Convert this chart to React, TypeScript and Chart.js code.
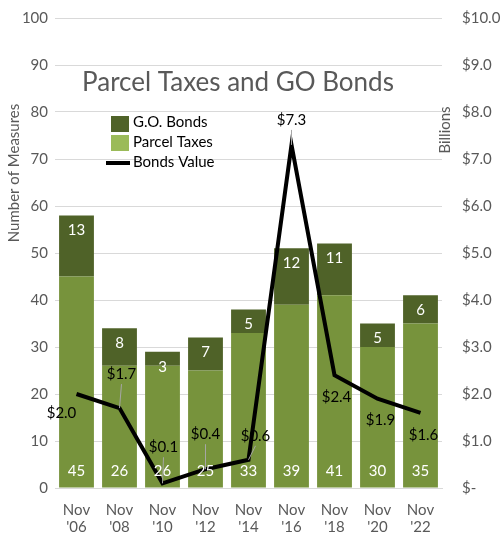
import React, { useEffect, useRef } from "react";
import { Chart, registerables } from "chart.js";

Chart.register(...registerables);

const categories = [["Nov", "'06"], ["Nov", "'08"], ["Nov", "'10"], ["Nov", "'12"], ["Nov", "'14"], ["Nov", "'16"], ["Nov", "'18"], ["Nov", "'20"], ["Nov", "'22"]];
const parcelTaxes = [45, 26, 26, 25, 33, 39, 41, 30, 35];
const goBonds = [13, 8, 3, 7, 5, 12, 11, 5, 6];
const bondsValue = [2.0, 1.7, 0.1, 0.4, 0.6, 7.3, 2.4, 1.9, 1.6];

// label offsets (style only) for the line labels
const lineLabelOffsets = [[-15, 19], [2, -34], [1, -36], [0, -35], [7, -24], [0, -25], [2, 22], [3, 21], [3, 22]];

const FONT = "Lato, 'Open Sans', sans-serif";
const GRAY = "#595959";
const C_PARCEL = "#77933C";
const C_PARCEL_LEG = "#9BBB59";
const C_GO = "#4F6228";

const overlay = {
  id: "overlay",
  afterDatasetsDraw(chart: any) {
    const ctx = chart.ctx;
    ctx.save();
    ctx.font = `15px ${FONT}`;
    ctx.fillStyle = "#ffffff";
    ctx.textAlign = "center";
    ctx.textBaseline = "middle";
    const m0 = chart.getDatasetMeta(0);
    const m1 = chart.getDatasetMeta(1);
    m0.data.forEach((el: any, i: number) => {
      ctx.fillText(String(parcelTaxes[i]), el.x, el.base - 16);
    });
    m1.data.forEach((el: any, i: number) => {
      ctx.fillText(String(goBonds[i]), el.x, el.y + 15);
    });
    const m2 = chart.getDatasetMeta(2);
    m2.data.forEach((el: any, i: number) => {
      const [dx, dy] = lineLabelOffsets[i];
      const lx = el.x + dx;
      const ly = el.y + dy;
      if (Math.abs(dy) > 23 && dy < 0) {
        ctx.strokeStyle = "#a6a6a6";
        ctx.lineWidth = 1;
        ctx.beginPath();
        ctx.moveTo(lx, ly + 10);
        ctx.lineTo(el.x, el.y);
        ctx.stroke();
      }
      ctx.fillStyle = "#000000";
      ctx.fillText("$" + bondsValue[i].toFixed(1), lx, ly);
    });
    ctx.restore();
  },
  afterDraw(chart: any) {
    const ctx = chart.ctx;
    ctx.save();
    ctx.fillStyle = GRAY;
    ctx.font = `26px ${FONT}`;
    ctx.textAlign = "center";
    ctx.textBaseline = "middle";
    ctx.fillText("Parcel Taxes and GO Bonds", 238, 83);
    ctx.font = `15px ${FONT}`;
    ctx.textAlign = "left";
    ctx.fillStyle = C_GO;
    ctx.fillRect(111, 116, 18, 16);
    ctx.fillStyle = C_PARCEL_LEG;
    ctx.fillRect(111, 135, 18, 16);
    ctx.fillStyle = "#000";
    ctx.fillRect(106, 161, 24, 4);
    ctx.fillText("G.O. Bonds", 133, 122);
    ctx.fillText("Parcel Taxes", 133, 142);
    ctx.fillText("Bonds Value", 133, 162);
    ctx.fillStyle = GRAY;
    ctx.font = `15px ${FONT}`;
    ctx.textAlign = "center";
    ctx.translate(14, 173);
    ctx.rotate(-Math.PI / 2);
    ctx.fillText("Number of Measures", 0, 0);
    ctx.setTransform(1, 0, 0, 1, 0, 0);
    ctx.translate(445, 130);
    ctx.rotate(-Math.PI / 2);
    ctx.fillText("Billions", 0, 0);
    ctx.restore();
  },
};

export default function App() {
  const ref = useRef<HTMLCanvasElement>(null);
  useEffect(() => {
    document.body.style.margin = "0";
    const chart = new Chart(ref.current!, {
      type: "bar",
      data: {
        labels: categories,
        datasets: [
          { type: "bar", label: "Parcel Taxes", data: parcelTaxes, backgroundColor: C_PARCEL, stack: "s", yAxisID: "y", barPercentage: 0.81, categoryPercentage: 1, order: 2 },
          { type: "bar", label: "G.O. Bonds", data: goBonds, backgroundColor: C_GO, stack: "s", yAxisID: "y", barPercentage: 0.81, categoryPercentage: 1, order: 2 },
          { type: "line", label: "Bonds Value", data: bondsValue, borderColor: "#000", borderWidth: 4, pointRadius: 0, yAxisID: "y1", order: 1, tension: 0 } as any,
        ],
      },
      options: {
        responsive: false,
        animation: false,
        layout: { padding: { top: 18, left: 0, right: 0, bottom: 0 } },
        plugins: { legend: { display: false }, title: { display: false }, tooltip: { enabled: false } },
        scales: {
          x: {
            stacked: true,
            grid: { display: false, drawTicks: false },
            border: { color: "#d9d9d9" },
            ticks: { color: GRAY, font: { family: FONT, size: 15, lineHeight: 1.1 }, padding: 14, maxRotation: 0 },
            afterFit: (s: any) => { s.height = 45; s.paddingLeft = 0; s.paddingRight = 0; },
          },
          y: {
            stacked: true,
            min: 0, max: 100,
            position: "left",
            grid: { color: "#d9d9d9", drawTicks: false },
            border: { display: false },
            ticks: { stepSize: 10, color: GRAY, font: { family: FONT, size: 15 }, padding: 7 },
            afterFit: (s: any) => { s.width = 55; s.paddingTop = 0; s.paddingBottom = 0; },
          },
          y1: {
            min: 0, max: 10,
            position: "right",
            grid: { display: false, drawTicks: false },
            border: { display: false },
            ticks: { stepSize: 1, color: GRAY, font: { family: FONT, size: 15 }, padding: 20, callback: (v: any) => (v === 0 ? "$-" : "$" + Number(v).toFixed(1)) },
            afterFit: (s: any) => { s.width = 59; s.paddingTop = 0; s.paddingBottom = 0; },
          },
        },
      },
      plugins: [overlay],
    });
    return () => chart.destroy();
  }, []);
  return (
    <div style={{ position: "fixed", left: 0, top: 0, width: 501, height: 533, background: "#fff" }}>
      <canvas ref={ref} width={501} height={533} />
    </div>
  );
}
